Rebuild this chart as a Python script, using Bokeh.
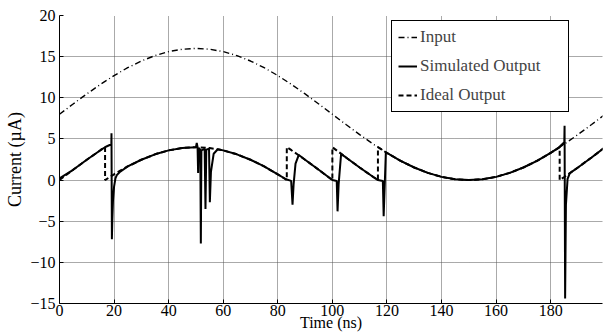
from bokeh.plotting import figure
from bokeh.models import Range1d, FixedTicker, Legend, LegendItem
from bokeh.embed import file_html
from bokeh.resources import INLINE

# ---- data ----
input_t = [0, 5, 10, 15, 20, 25, 30, 35, 40, 45, 50, 55, 60, 65, 70, 75, 80, 85, 90, 95,
           100, 105, 110, 115, 120, 125, 130, 135, 140, 145, 150, 155, 160, 165, 170, 175,
           180, 185, 190, 195, 200]
input_y = [8.0, 9.25, 10.47, 11.63, 12.7, 13.66, 14.47, 15.13, 15.61, 15.9, 16.0, 15.9, 15.61,
           15.13, 14.47, 13.66, 12.7, 11.63, 10.47, 9.25, 8.0, 6.75, 5.53, 4.37, 3.3, 2.34,
           1.53, 0.87, 0.39, 0.1, 0.0, 0.1, 0.39, 0.87, 1.53, 2.34, 3.3, 4.37, 5.53, 6.75, 8.0]

ideal_t = [0, 5, 10, 15, 16.7, 16.7, 20, 25, 30, 35, 40, 45, 50, 55, 60, 65, 70, 75, 80,
           83.3, 83.3, 85, 90, 95, 100, 100, 105, 110, 115, 116.7, 116.7, 120, 125, 130, 135,
           140, 145, 150, 155, 160, 165, 170, 175, 180, 183.3, 183.3, 185, 190, 195, 200]
ideal_y = [0.0, 1.25, 2.47, 3.63, 4.0, 0.0, 0.7, 1.66, 2.47, 3.13, 3.61, 3.9, 4.0, 3.9, 3.61,
           3.13, 2.47, 1.66, 0.7, 0.0, 4.0, 3.63, 2.47, 1.25, 0.0, 4.0, 2.75, 1.53, 0.37, 0.0,
           4.0, 3.3, 2.34, 1.53, 0.87, 0.39, 0.1, 0.0, 0.1, 0.39, 0.87, 1.53, 2.34, 3.3, 4.0,
           0.0, 0.37, 1.53, 2.75, 4.0]

sim_t = [0, 5, 10, 15, 17, 18, 19.0, 19.05, 19.2, 19.35, 19.6, 20.0, 20.5, 21, 22, 25, 30,
         35, 40, 45, 50, 50.3, 50.6, 50.8, 51.0, 51.6, 51.8, 52.0, 53.2, 53.5, 53.8, 54.8,
         55.1, 55.5, 56.5, 58, 60, 65, 70, 75, 80, 83, 84.9, 85.4, 85.8, 86.5, 87.7, 90, 95,
         100, 101.6, 101.9, 102.3, 103.2, 105, 110, 115, 116.7, 118.5, 118.8, 119.6, 125, 130,
         135, 140, 145, 150, 155, 160, 165, 170, 175, 180, 183, 185, 185.1, 185.3, 185.6,
         186.2, 187, 187.7, 190, 195, 200]
sim_y = [0.2, 1.25, 2.47, 3.63, 4.05, 4.2, 4.35, 5.7, -7.2, -5.0, -2.5, -0.8, 0.2, 0.6, 0.95,
         1.66, 2.47, 3.13, 3.61, 3.9, 4.0, 4.5, 4.0, 0.85, 3.9, 3.7, -7.7, 3.6, 3.8, -3.5,
         3.7, 3.8, -2.7, 1.0, 3.2, 3.75, 3.61, 3.13, 2.47, 1.66, 0.7, 0.1, -0.1, -3.0, -0.5,
         2.0, 3.05, 2.47, 1.25, 0.0, -0.1, -3.8, -0.5, 3.15, 2.75, 1.53, 0.37, 0.0, -0.1,
         -4.4, 3.38, 2.34, 1.53, 0.87, 0.39, 0.1, 0.0, 0.1, 0.39, 0.87, 1.53, 2.34, 3.3, 3.95,
         4.6, 6.6, -14.4, -3.0, 0.15, 0.8, 1.0, 1.53, 2.75, 4.0]

x_ticks = [0, 20, 40, 60, 80, 100, 120, 140, 160, 180]
y_ticks = [-15, -10, -5, 0, 5, 10, 15, 20]
y_tick_labels = ["\u221215", "\u221210", "\u22125", "0", "5", "10", "15", "20"]

FONT = "Liberation Serif"

p = figure(width=603, height=335, output_backend="svg", toolbar_location=None,
           x_range=Range1d(0, 199), y_range=Range1d(-15, 20),
           min_border_left=59, min_border_right=1, min_border_top=15, min_border_bottom=32)
p.outline_line_color = None
p.background_fill_color = "white"
p.border_fill_color = "white"

l_in = p.line(input_t, input_y, line_color="black", line_width=1.4, line_dash="6 3 1 3")
l_sim = p.line(sim_t, sim_y, line_color="black", line_width=2)
l_id = p.line(ideal_t, ideal_y, line_color="black", line_width=2, line_dash="5 3")

for ax in (p.xaxis[0], p.yaxis[0]):
    ax.major_label_text_font = FONT
    ax.major_label_text_font_size = "16px"
    ax.major_label_text_color = "black"
    ax.axis_line_color = "black"
    ax.major_tick_in = 4
    ax.major_tick_out = 0
    ax.minor_tick_line_color = None
    ax.major_tick_line_color = "black"
    ax.axis_label_text_font = FONT
    ax.axis_label_text_font_style = "normal"
    ax.axis_label_text_color = "black"

p.xaxis[0].ticker = FixedTicker(ticks=x_ticks)
p.xaxis[0].major_label_standoff = 1
p.xaxis[0].axis_label = "Time (ns)"
p.xaxis[0].axis_label_text_font_size = "16px"
p.xaxis[0].axis_label_standoff = -5
p.yaxis[0].ticker = FixedTicker(ticks=y_ticks)
p.yaxis[0].major_label_overrides = {t: s for t, s in zip(y_ticks, y_tick_labels)}
p.yaxis[0].major_label_standoff = 4
p.yaxis[0].axis_label = "Current (\u00b5A)"
p.yaxis[0].axis_label_text_font_size = "18px"
p.yaxis[0].axis_label_standoff = 2

for g in (p.xgrid[0], p.ygrid[0]):
    g.grid_line_color = "#555555"
    g.grid_line_dash = "1 1"
    g.grid_line_width = 1
p.xgrid[0].ticker = FixedTicker(ticks=x_ticks)
p.ygrid[0].ticker = FixedTicker(ticks=y_ticks)

legend = Legend(items=[LegendItem(label="Input", renderers=[l_in]),
                       LegendItem(label="Simulated Output", renderers=[l_sim]),
                       LegendItem(label="Ideal Output", renderers=[l_id])],
                location=(332, 191), orientation="vertical",
                label_text_font=FONT, label_text_font_size="17px",
                glyph_width=19, glyph_height=20, label_height=20, label_standoff=3,
                label_width=142, spacing=9, padding=6, margin=0,
                border_line_color="black", border_line_width=1, border_line_alpha=1,
                background_fill_color="white", background_fill_alpha=1)
p.add_layout(legend, "center")

open("out.html", "w").write(file_html(p, INLINE))
